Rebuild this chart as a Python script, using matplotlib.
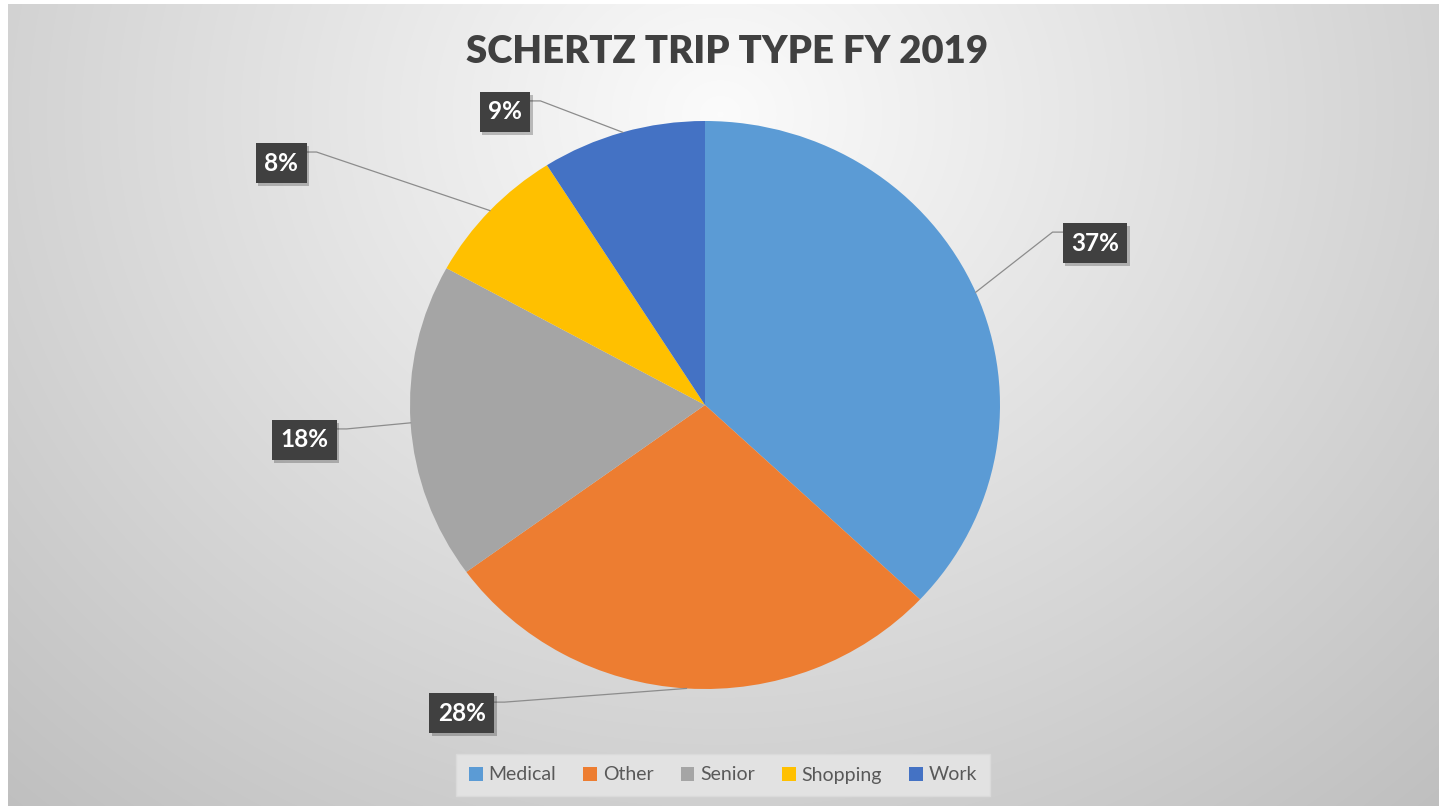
import numpy as np
import matplotlib
matplotlib.use("Agg")
import matplotlib.pyplot as plt
from matplotlib.patches import Patch
import matplotlib.patheffects as pe

categories = ["Medical", "Other", "Senior", "Shopping", "Work"]
values = [37, 28, 18, 8, 9]
colors = ["#5B9BD5", "#ED7D31", "#A5A5A5", "#FFC000", "#4472C4"]
title = "SCHERTZ TRIP TYPE FY 2019"
# label box centres in data units (pie radius = 1)
label_pos = [(1.322, 0.570), (-0.824, -1.085), (-1.359, -0.123), (-1.437, 0.852), (-0.678, 1.032)]

W, H = 1439, 806
fig = plt.figure(figsize=(W / 100, H / 100), dpi=100, facecolor="white")

# background gradient (chart area)
x0, y0 = 8, 4
bg = fig.add_axes([x0 / W, 0, (W - x0) / W, (H - y0) / H])
bg.set_axis_off()
yy, xx = np.mgrid[0:H - y0, 0:W - x0]
cx, cy = 712, 110
d = np.sqrt(((xx - cx) / 900.0) ** 2 + ((yy - cy) / 800.0) ** 2)
v = np.clip(0.985 - 0.2 * d, 0, 1)
bg.imshow(np.dstack([v, v, v]), aspect="auto", interpolation="bilinear")

# pie axes
ax = fig.add_axes([0, 0, 1, 1])
ax.set_axis_off()
cxp, cyp, sx, sy = 705, 405, 295, 284
wedges, _ = ax.pie(values, colors=colors, startangle=90, counterclock=False,
                   radius=1, wedgeprops=dict(linewidth=0))
ax.set_aspect("auto")
ax.set_xlim(-cxp / sx, (W - cxp) / sx)
ax.set_ylim(-(H - cyp) / sy, cyp / sy)

fig.text(0.5 + 8 / W, 1 - 52 / H, title, ha="center", va="center",
         fontsize=27.5, fontweight="heavy", color="#404040", family="Lato")

texts = []
for w, val, (lx, ly) in zip(wedges, values, label_pos):
    t = ax.text(lx, ly, f"{val}%", ha="center", va="center", fontsize=17.5,
                fontweight="bold", color="white", family="Lato",
                bbox=dict(boxstyle="square,pad=0.35", facecolor="#404040",
                          edgecolor="none"), zorder=5)
    t.get_bbox_patch().set_path_effects([pe.SimplePatchShadow(offset=(2, -2), alpha=0.25), pe.Normal()])
    texts.append(t)

fig.canvas.draw()
r = fig.canvas.get_renderer()
inv = ax.transData.inverted()
for w, t in zip(wedges, texts):
    mid = np.deg2rad((w.theta1 + w.theta2) / 2)
    px, py = ax.transData.transform((np.cos(mid), np.sin(mid)))
    bb = t.get_bbox_patch().get_window_extent(r)
    ay = bb.y1 - 9
    if bb.x0 > px:
        ax_ = bb.x0
        ex = ax_ - 10
    else:
        ax_ = bb.x1
        ex = ax_ + 10
    pts = inv.transform([(px, py), (ex, ay), (ax_, ay)])
    ax.plot(pts[:, 0], pts[:, 1], color="#8c8c8c", lw=0.9, zorder=4)

handles = [Patch(facecolor=c, edgecolor="none", label=n) for c, n in zip(colors, categories)]
leg = fig.legend(handles=handles, loc="center", bbox_to_anchor=(723 / W, 1 - 775 / H),
                 ncol=5, frameon=True, handlelength=0.7, handleheight=0.7,
                 handletextpad=0.3, columnspacing=1.4, borderpad=0.65, fancybox=False,
                 borderaxespad=0, prop={"family": "Lato", "size": 14})
leg.get_frame().set_facecolor("#e2e2e2")
leg.get_frame().set_edgecolor("#dadada")
leg.get_frame().set_alpha(1)
for tx in leg.get_texts():
    tx.set_color("#595959")

fig.savefig("out.png", dpi=100, facecolor="white")
